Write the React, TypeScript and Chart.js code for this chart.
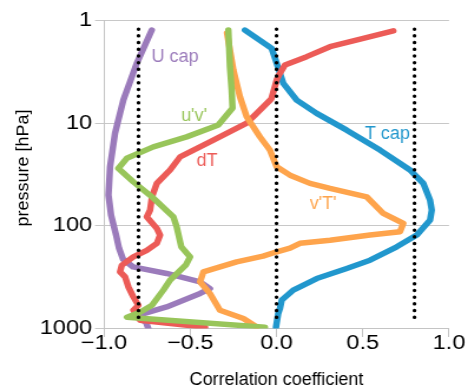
import { useEffect, useRef } from "react";
import { Chart, registerables } from "chart.js";

Chart.register(...registerables);

// ---------- data (correlation coefficient vs pressure in hPa) ----------
const uCapR = [-0.723, -0.81, -0.888, -0.936, -0.965, -0.974, -0.959, -0.93, -0.913, -0.89, -0.832, -0.637, -0.443, -0.386, -0.443, -0.637, -0.82, -0.757, -0.743];
const uCapP = [1.24, 2.61, 5.96, 12.5, 26.6, 50.2, 78.7, 123, 165, 211, 251, 291, 351, 408, 456, 616, 759, 868, 1000];

const uvR = [-0.279, -0.27, -0.26, -0.255, -0.337, -0.521, -0.714, -0.868, -0.917, -0.83, -0.714, -0.598, -0.579, -0.552, -0.501, -0.525, -0.617, -0.656, -0.722, -0.791, -0.867, -0.067];
const uvP = [1.24, 2.82, 4.76, 7.13, 10.4, 13.6, 17.0, 22.0, 27.6, 37.3, 53.7, 81.7, 102, 160, 201, 240, 338, 423, 593, 693, 776, 971];

const dTR = [0.677, 0.503, 0.31, 0.175, 0.049, 0.014, 0.001, -0.03, -0.115, -0.173, -0.366, -0.559, -0.617, -0.694, -0.722, -0.733, -0.752, -0.694, -0.675, -0.694, -0.752, -0.83, -0.897, -0.907, -0.878, -0.859, -0.83, -0.801, -0.83, -0.791, -0.414];
const dTP = [1.26, 1.49, 1.8, 2.25, 2.72, 3.4, 3.8, 5.8, 8.03, 10.0, 14.6, 21.3, 28.6, 38.6, 52.2, 70.3, 81.7, 106, 123, 148, 173, 201, 242, 281, 314, 393, 492, 593, 663, 830, 971];

const vTR = [-0.287, -0.25, -0.212, -0.173, -0.096, -0.038, 0.001, 0.078, 0.194, 0.31, 0.523, 0.619, 0.735, 0.716, 0.542, 0.31, 0.136, 0.078, -0.003, -0.078, -0.231, -0.424, -0.443, -0.386, -0.328, -0.192, -0.115];
const vTP = [1.32, 3.04, 5.53, 8.66, 13.6, 18.3, 26.6, 32.1, 38.6, 43.2, 52.2, 75.7, 94.8, 114, 123, 138, 148, 165, 180, 197, 224, 281, 351, 456, 663, 799, 965];

const tCapR = [-0.183, -0.028, 0.001, 0.02, 0.039, 0.117, 0.233, 0.407, 0.6, 0.774, 0.851, 0.89, 0.9, 0.89, 0.813, 0.697, 0.542, 0.407, 0.233, 0.136, 0.097, 0.03, 0.02, 0.01, -0.003];
const tCapP = [1.24, 1.87, 2.61, 3.27, 4.09, 5.96, 8.03, 11.7, 18.3, 28.6, 38.6, 56.2, 70.3, 88, 123, 160, 216, 260, 326, 393, 423, 530, 638, 714, 971];

// dotted reference lines
const refX = [-0.8, 0, 0.8];
const refP = [1.21, 890];

// axis ticks
const xTicks = [-1, -0.5, 0, 0.5, 1];
const yTicks = [1, 10, 100, 1000];

// axis titles
const xTitle = "Correlation coefficient";
const yTitle = "pressure [hPa]";

// in-plot series labels (data coordinates of text centre)
const labelText = ["U cap", "u'v'", "dT", "T cap", "v'T'"];
const labelX = [-0.588, -0.478, -0.403, 0.643, 0.27];
const labelP = [2.29, 8.53, 23.4, 12.8, 61.4];

// ---------- styling ----------
const PURPLE = "#9b7bbb";
const GREEN = "#98c55a";
const RED = "#ec5b57";
const ORANGE = "#fea44c";
const BLUE = "#2197cd";
const labelColor = [PURPLE, GREEN, RED, BLUE, ORANGE];

const CSS_W = 468;
const CSS_H = 387;
const CANVAS_W = 397;
const S = CSS_W / CANVAS_W; // horizontal stretch of the canvas
const FONT = "'Liberation Sans', Arial, Helvetica, sans-serif";

const pts = (r: number[], p: number[]) => r.map((v, i) => ({ x: v, y: p[i] }));
const fmt = (v: number) => (v < 0 ? "\u2212" + Math.abs(v).toFixed(1) : v.toFixed(1));

const labelPlugin = {
  id: "seriesLabels",
  afterDatasetsDraw(chart: any) {
    const { ctx, scales } = chart;
    ctx.save();
    ctx.font = `18px ${FONT}`;
    ctx.textAlign = "center";
    ctx.textBaseline = "middle";
    labelText.forEach((t, i) => {
      const px = scales.x.getPixelForValue(labelX[i]);
      const py = scales.y.getPixelForValue(labelP[i]);
      ctx.save();
      ctx.translate(px, py);
      ctx.scale(1 / S, 1);
      ctx.fillStyle = labelColor[i];
      ctx.fillText(t, 0, 0);
      ctx.restore();
    });
    ctx.restore();
  },
  afterDraw(chart: any) {
    const { ctx, chartArea } = chart;
    ctx.save();
    ctx.font = `18px ${FONT}`;
    ctx.fillStyle = "#000";
    ctx.textAlign = "center";
    ctx.textBaseline = "alphabetic";
    // x-axis title
    ctx.save();
    ctx.translate((chartArea.left + chartArea.right) / 2, 385);
    ctx.scale(1 / S, 1);
    ctx.fillText(xTitle, 0, 0);
    ctx.restore();
    // y-axis title
    ctx.save();
    ctx.translate(28.5 / S, (chartArea.top + chartArea.bottom) / 2 - 6.5);
    ctx.scale(1 / S, 1);
    ctx.rotate(-Math.PI / 2);
    ctx.fillText(yTitle, 0, 0);
    ctx.restore();
    ctx.restore();
  },
};

const series = (label: string, r: number[], p: number[], color: string) => ({
  label,
  data: pts(r, p),
  showLine: true,
  borderColor: color,
  backgroundColor: color,
  borderWidth: 5.5,
  borderCapStyle: "round",
  borderJoinStyle: "round",
  pointRadius: 0,
  pointHoverRadius: 0,
  fill: false,
  tension: 0,
});

export default function App() {
  const ref = useRef<HTMLCanvasElement>(null);

  useEffect(() => {
    document.body.style.margin = "0";
    const canvas = ref.current;
    if (!canvas) return;

    const refSets = refX.map((x) => ({
      label: "ref " + x,
      data: refP.map((p) => ({ x, y: p })),
      showLine: true,
      borderColor: "#000",
      borderWidth: 3.2,
      borderDash: [0.3, 6.4],
      borderCapStyle: "round",
      pointRadius: 0,
      pointHoverRadius: 0,
      fill: false,
    }));

    const chart = new Chart(canvas, {
      type: "scatter",
      data: {
        datasets: [
          ...refSets,
          series("u'v'", uvR, uvP, GREEN),
          series("v'T'", vTR, vTP, ORANGE),
          series("dT", dTR, dTP, RED),
          series("T cap", tCapR, tCapP, BLUE),
          series("U cap", uCapR, uCapP, PURPLE),
        ] as any,
      },
      options: {
        responsive: false,
        animation: false,
        devicePixelRatio: 1,
        layout: { padding: { left: 0, right: CANVAS_W - 449 / S, top: 20.5, bottom: 0 } },
        plugins: {
          legend: { display: false },
          tooltip: { enabled: false },
        },
        scales: {
          x: {
            type: "linear",
            min: -1,
            max: 1,
            afterBuildTicks: (s: any) => {
              s.ticks = xTicks.map((v) => ({ value: v }));
            },
            afterFit: (s: any) => {
              s.height = CSS_H - 328.5;
            },
            ticks: {
              autoSkip: false,
              maxRotation: 0,
              minRotation: 0,
              padding: -4,
              color: "#000",
              font: { family: FONT, size: 20, lineHeight: 1 },
              callback: (v: any) => fmt(Number(v)),
            },
            grid: {
              drawOnChartArea: false,
              drawTicks: true,
              tickLength: 8.5,
              color: "#c4c4c4",
              lineWidth: 1,
            },
            border: { display: true, color: "#c4c4c4", width: 1 },
            title: { display: false, text: xTitle },
          },
          y: {
            type: "logarithmic",
            reverse: true,
            min: 1,
            max: 1000,
            afterBuildTicks: (s: any) => {
              s.ticks = yTicks.map((v) => ({ value: v }));
            },
            afterFit: (s: any) => {
              s.width = 104 / S;
            },
            ticks: {
              autoSkip: false,
              padding: 2.5,
              color: "#000",
              font: { family: FONT, size: 20, lineHeight: 1 },
              callback: (v: any) => String(v),
            },
            grid: {
              drawOnChartArea: true,
              drawTicks: true,
              tickLength: 7.6,
              color: "#c8c8c8",
              lineWidth: 1,
            },
            border: { display: true, color: "#c4c4c4", width: 1 },
            title: { display: false, text: yTitle },
          },
        },
      },
      plugins: [labelPlugin],
    });

    return () => chart.destroy();
  }, []);

  return (
    <canvas
      ref={ref}
      width={CANVAS_W}
      height={CSS_H}
      style={{ width: CSS_W + "px", height: CSS_H + "px", display: "block" }}
    />
  );
}
